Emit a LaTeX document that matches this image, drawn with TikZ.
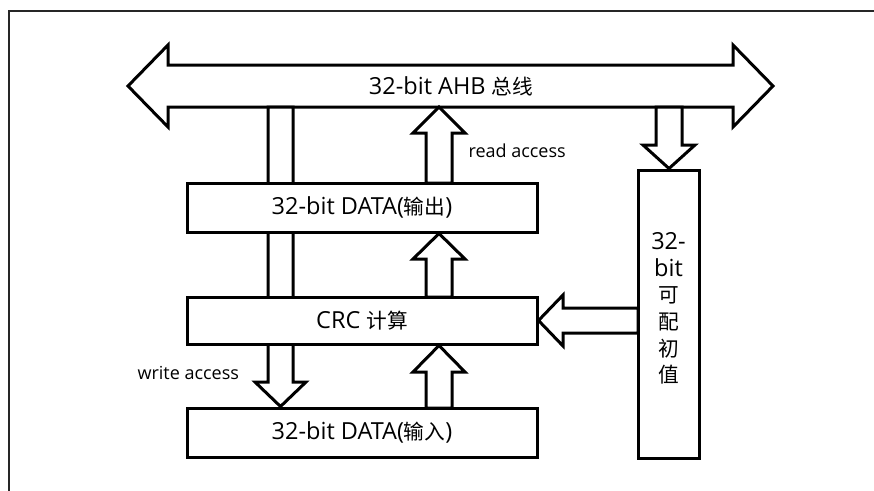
\documentclass[tikz,border=0pt]{standalone}
\usepackage{fontspec}
\setmainfont{Open Sans}
\newfontfamily\cjk[Scale=0.88]{Noto Sans CJK SC}
\usetikzlibrary{calc}
\pgfdeclarelayer{bg}
\pgfsetlayers{bg,main}
\begin{document}
\begin{tikzpicture}[x=1pt,y=-1pt,
  box/.style={draw, fill=white, line width=3pt, inner sep=0pt},
  blk/.style={draw, fill=white, line width=3pt, line join=miter},
  frame/.style={draw=black!85, line width=2pt},
  big/.style={font=\fontsize{23.5}{26.6}\selectfont},
  small/.style={font=\fontsize{18}{22}\selectfont}]
\useasboundingbox (0,0) rectangle (874,490);
\draw[frame] (9,495) -- (9,11) -- (880,11);

% boxes
\node[box, minimum width=350pt, minimum height=49pt, big] (out) at (362,207.5) {32-bit DATA({\cjk 输出})};
\node[box, minimum width=350pt, minimum height=47pt, big] (crc) at (362,320.5) {CRC {\cjk 计算}};
\node[box, minimum width=350pt, minimum height=49pt, big] (inp) at (362,432.5) {32-bit DATA({\cjk 输入})};
\node[box, minimum width=61pt, minimum height=288pt] (init) at (668.5,314) {};
\node[big, align=center, inner sep=0pt] (initlbl) at (668.5,308.5) {32-\\bit\\{\cjk 可}\\{\cjk 配}\\{\cjk 初}\\{\cjk 值}};

\coordinate (wx) at (280.5,0);
\coordinate (rx) at (439,0);
\coordinate (dx) at (669,0);

\begin{pgfonlayer}{bg}
% AHB bus
\draw[blk] (128,86) -- (168,45) -- (168,65) -- (733,65) -- (733,45) -- (773,86)
  -- (733,127) -- (733,107) -- (168,107) -- (168,127) -- cycle;
% write access arrow
\draw[blk] (268,107) -- (268,382) -- (255,382) -- (wx |- inp.north) -- (306,382)
  -- (293,382) -- (293,107) -- cycle;
% read arrows
\draw[blk] (426,408) -- (426,372) -- (413,372) -- (rx |- crc.south) -- (465,372)
  -- (452,372) -- (452,408) -- cycle;
\draw[blk] (426,297) -- (426,259) -- (413,259) -- (rx |- out.south) -- (465,259)
  -- (452,259) -- (452,297) -- cycle;
\draw[blk] (426,183) -- (426,133) -- (413,133) -- (439,107) -- (465,133)
  -- (452,133) -- (452,183) -- cycle;
% init value arrows
\draw[blk] (656,107) -- (656,145) -- (643,145) -- (dx |- init.north) -- (695,145)
  -- (682,145) -- (682,107) -- cycle;
\draw[blk] (638,308) -- (563,308) -- (563,295) -- (crc.east) -- (563,346)
  -- (563,333) -- (638,333) -- cycle;
\end{pgfonlayer}

\node[big] (bus) at (451,86) {32-bit AHB {\cjk 总线}};
\node[small, anchor=west] (rd) at (465,151) {read access};
\node[small, anchor=west] (wr) at (134,373) {write access};
\end{tikzpicture}
\end{document}
